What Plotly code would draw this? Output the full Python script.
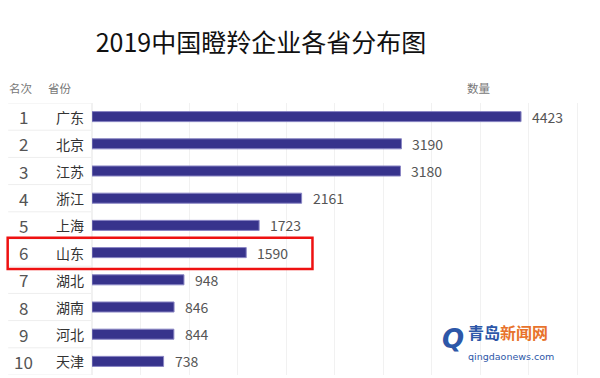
import plotly.graph_objects as go

ranks = ["1", "2", "3", "4", "5", "6", "7", "8", "9", "10"]
provinces = ["广东", "北京", "江苏", "浙江", "上海", "山东", "湖北", "湖南", "河北", "天津"]
counts = [4423, 3190, 3180, 2161, 1723, 1590, 948, 846, 844, 738]
highlight = "山东"
title_text = "2019中国瞪羚企业各省分布图"

FONT = "Noto Sans CJK SC, Noto Sans, sans-serif"

fig = go.Figure()
fig.add_trace(go.Bar(
    x=counts, y=provinces, orientation="h",
    marker=dict(color="#37338c", line=dict(color="#8a86c4", width=1)),
    width=0.37, hoverinfo="skip",
))

ann = []
for r, p, c in zip(ranks, provinces, counts):
    ann.append(dict(x=0, xref="paper", y=p, yref="y", text=r, showarrow=False,
                    xanchor="center", xshift=-69, font=dict(family=FONT, size=17, color="#555")))
    ann.append(dict(x=0, xref="paper", y=p, yref="y", text=p, showarrow=False,
                    xanchor="left", xshift=-38, font=dict(family=FONT, size=14, color="#333")))
    ann.append(dict(x=c, xref="x", y=p, yref="y", text=str(c), showarrow=False,
                    xanchor="left", xshift=9, font=dict(family=FONT, size=14, color="#555")))

for txt, xs in [("名次", -85), ("省份", -46), ("数量", 373)]:
    ann.append(dict(x=0, xref="paper", y=1, yref="paper", text=txt, showarrow=False,
                    xanchor="left", yanchor="middle", xshift=xs, yshift=15,
                    font=dict(family=FONT, size=11.5, color="#777")))

# watermark
ann.append(dict(x=0, xref="paper", y=0, yref="paper", xanchor="left", yanchor="middle",
                xshift=374, yshift=34, showarrow=False, align="left",
                text=("<b><span style='color:#2d57a8'>青岛</span><span style='color:#e8732c'>新闻网</span></b>"
                      "<br><span style='font-size:9.5px;font-family:DejaVu Sans'>qingdaonews.com</span>"),
                font=dict(family=FONT, size=16, color="#2d57a8")))
ann.append(dict(x=0, xref="paper", y=0, yref="paper", xanchor="left", yanchor="middle",
                xshift=348, yshift=36, showarrow=False, text="<b><i>Q</i></b>",
                font=dict(family="DejaVu Sans, sans-serif", size=26, color="#2d57a8")))

shapes = []
n = len(provinces)
for i in range(n + 1):
    shapes.append(dict(type="line", xref="paper", x0=-0.165, x1=0, yref="y",
                       y0=i - 0.5, y1=i - 0.5, line=dict(color="#eeeeee", width=1), layer="below"))
hi = provinces.index(highlight)
shapes.append(dict(type="rect", xref="paper", x0=-0.166, x1=0.434, yref="y",
                   y0=hi - 0.55, y1=hi + 0.6, line=dict(color="#ee1111", width=2.5)))

fig.update_layout(
    width=600, height=378,
    margin=dict(l=92, r=0, t=103, b=3),
    paper_bgcolor="white", plot_bgcolor="white",
    showlegend=False,
    title=dict(text=title_text, x=0.435, xanchor="center", y=0.886, yanchor="middle",
               font=dict(family=FONT, size=25, color="#111")),
    xaxis=dict(range=[0, 5237], dtick=500, showgrid=True, gridcolor="#f1f1f1", gridwidth=1,
               showticklabels=False, zeroline=True, zerolinecolor="#f1f1f1", showline=False, fixedrange=True),
    yaxis=dict(categoryorder="array", categoryarray=provinces, range=[n - 0.5, -0.5],
               showticklabels=False, showgrid=False, zeroline=False, showline=False),
    annotations=ann, shapes=shapes,
)

fig.write_html("out.html", config={"displayModeBar": False},
               post_script="document.body.style.margin='0';document.body.style.overflow='hidden';")
